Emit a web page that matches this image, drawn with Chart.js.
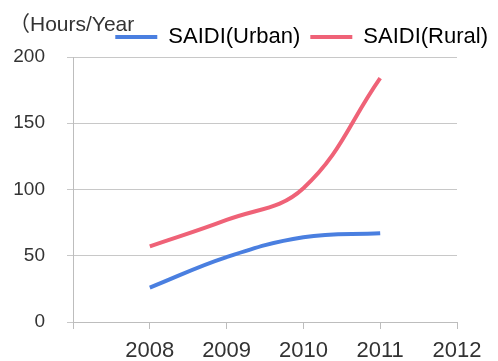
<!DOCTYPE html>
<html>
<head>
<meta charset="utf-8">
<script src="https://cdn.jsdelivr.net/npm/chart.js@4/dist/chart.umd.min.js"></script>
<style>
  html, body { margin: 0; padding: 0; background: #fff; }
  #wrap { width: 498px; height: 361px; }
</style>
</head>
<body>
<div id="wrap"><canvas id="c" width="498" height="361"></canvas></div>
<script>
// Years on the horizontal axis and SAIDI values (hours per year)
const years = [2008, 2009, 2010, 2011];
const urbanSaidi = [26, 49, 64, 67];
const ruralSaidi = [57, 77, 101, 184];
const seriesNames = ['SAIDI(Urban)', 'SAIDI(Rural)'];
const yTicks = [0, 50, 100, 150, 200];
const xTickYears = [2008, 2009, 2010, 2011, 2012];
const unitLabel = '（Hours/Year';

const toPoints = (vals) => vals.map((v, i) => ({ x: years[i], y: v }));

// Unit caption drawn above the value axis
const unitCaption = {
  id: 'unitCaption',
  afterDraw(chart) {
    const ctx = chart.ctx;
    ctx.save();
    ctx.font = '21px "Liberation Sans", "Noto Sans CJK JP", sans-serif';
    ctx.fillStyle = '#333';
    ctx.textBaseline = 'middle';
    ctx.textAlign = 'left';
    ctx.fillText(unitLabel, 9, 25);
    ctx.restore();
  }
};

new Chart(document.getElementById('c'), {
  type: 'line',
  data: {
    datasets: [
      {
        label: seriesNames[0],
        data: toPoints(urbanSaidi),
        borderColor: '#4a7fe0',
        backgroundColor: '#4a7fe0',
        borderWidth: 4,
        pointRadius: 0,
        tension: 0.4,
        fill: false
      },
      {
        label: seriesNames[1],
        data: toPoints(ruralSaidi),
        borderColor: '#ef6277',
        backgroundColor: '#ef6277',
        borderWidth: 4,
        pointRadius: 0,
        tension: 0.4,
        fill: false
      }
    ]
  },
  options: {
    responsive: false,
    animation: false,
    devicePixelRatio: 1,
    layout: { padding: { left: 0, right: 0, top: 16, bottom: 0 } },
    plugins: {
      tooltip: { enabled: false },
      legend: {
        position: 'top',
        align: 'end',
        maxHeight: 41,
        labels: {
          boxWidth: 42,
          boxHeight: 4,
          padding: 10,
          color: '#333',
          font: { family: '"Liberation Sans", Arial, sans-serif', size: 22 },
          generateLabels(chart) {
            return chart.data.datasets.map((ds, i) => ({
              text: ds.label,
              fillStyle: ds.borderColor,
              strokeStyle: ds.borderColor,
              lineWidth: 0,
              hidden: false,
              datasetIndex: i
            }));
          }
        }
      }
    },
    scales: {
      x: {
        type: 'linear',
        min: 2007,
        max: 2012,
        afterBuildTicks(scale) {
          scale.ticks = [2007].concat(xTickYears).map(v => ({ value: v }));
        },
        afterFit(scale) {
          scale.paddingRight = 41;
          scale.height = 39;
        },
        ticks: {
          autoSkip: false,
          maxRotation: 0,
          padding: 9,
          color: '#333',
          font: { family: '"Liberation Sans", Arial, sans-serif', size: 22 },
          callback: (v) => (xTickYears.includes(v) ? String(v) : '')
        },
        grid: {
          drawOnChartArea: false,
          drawTicks: true,
          tickLength: 7,
          color: '#bdbdbd'
        },
        border: { color: '#bdbdbd', width: 1 }
      },
      y: {
        min: 0,
        max: 200,
        afterBuildTicks(scale) {
          scale.ticks = yTicks.map(v => ({ value: v }));
        },
        afterFit(scale) {
          scale.width = 73;
          scale.paddingTop = 57;
        },
        ticks: {
          padding: 22,
          color: '#333',
          font: { family: '"Liberation Sans", Arial, sans-serif', size: 19 }
        },
        grid: {
          color: '#c8c8c8',
          tickLength: 6,
          drawTicks: true
        },
        border: { color: '#bdbdbd', width: 1 }
      }
    }
  },
  plugins: [unitCaption]
});
</script>
</body>
</html>
